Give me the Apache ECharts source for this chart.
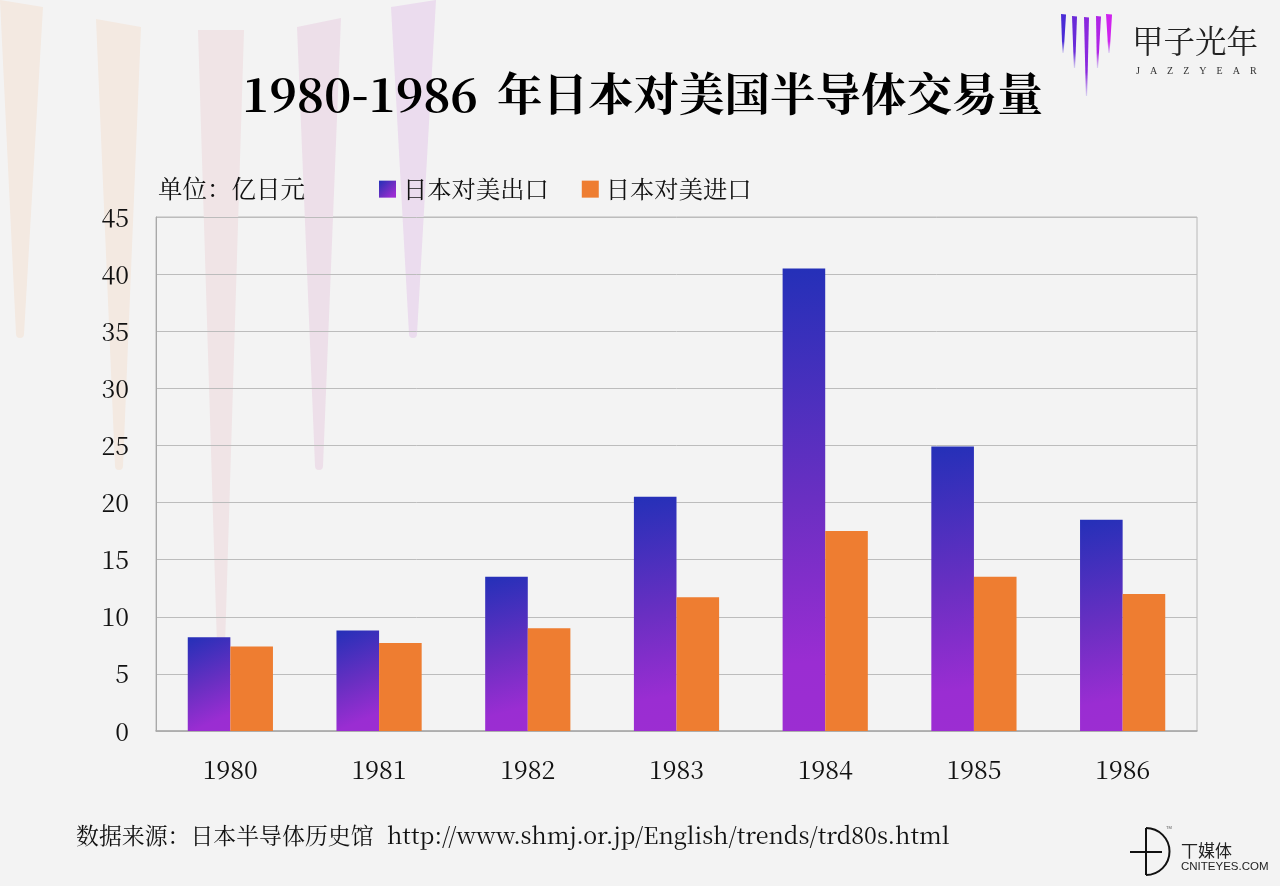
<!DOCTYPE html>
<html><head><meta charset="utf-8"><style>html,body{margin:0;background:#f3f3f3}#c{width:1280px;height:886px}</style>
<script src="https://cdn.jsdelivr.net/npm/echarts@6/dist/echarts.min.js"></script></head>
<body><div id="c"></div><script>
const categories=['1980','1981','1982','1983','1984','1985','1986'];
const exportsJP=[8.2,8.8,13.5,20.5,40.5,24.9,18.5];
const importsJP=[7.4,7.7,9.0,11.7,17.5,13.5,12.0];
const yTicks=[0,5,10,15,20,25,30,35,40,45];
const serif='"Noto Serif CJK SC","Liberation Serif","DejaVu Serif",serif';
const chart=echarts.init(document.getElementById('c'),null,{renderer:'canvas'});
const grad=new echarts.graphic.LinearGradient(0,0,1,1,[{offset:0,color:'#2430b8'},{offset:0.5,color:'#6a2fc2'},{offset:0.85,color:'#9a2dd2'},{offset:1,color:'#9c2dd2'}]);
function beam(x1,y1,x2,y2,bx,by,c){return [
 {type:'polygon',shape:{points:[[x1,y1],[x2,y2],[bx+4,by-4],[bx-4,by-4]]},style:{fill:c},z:0},
 {type:'circle',shape:{cx:bx,cy:by-4,r:4},style:{fill:c},z:0}];}
const beams=[
 ...beam(0,0,43,7,20,338,'#f3e9e1'),
 ...beam(96,19,141,27,119,470,'#f3e9e1'),
 ...beam(198,30,244,30,221,650,'#f0e4e6'),
 ...beam(297,27,341,18,319,470,'#eddfe9'),
 ...beam(391,7,436,0,413,338,'#ebdcee')];
function logoBar(x1,x2,y,tx,ty,c){return {type:'polygon',shape:{points:[[x1,y],[x2,y+0.5],[tx+0.6,ty],[tx-0.6,ty]]},style:{fill:new echarts.graphic.LinearGradient(0,0,0,1,[{offset:0,color:c},{offset:0.7,color:c},{offset:1,color:'#d9d4f0'}])},z:3};}
const logoBars=[
 logoBar(1061,1066,14,1063,53,'#4a2bd6'),
 logoBar(1072,1077,16,1074.5,68,'#6a2ad8'),
 logoBar(1084,1089,17,1086.5,96,'#8a28de'),
 logoBar(1096,1101,16,1097.5,68,'#b024e6'),
 logoBar(1106,1112,14,1109,53,'#cf22ee')];
chart.setOption({
 animation:false,backgroundColor:'#f3f3f3',
 title:{text:'{a|1980-1986}{b|年日本对美国半导体交易量}',left:637.5,top:66,textAlign:'center',textStyle:{rich:{a:{fontFamily:serif,fontSize:46.4,fontWeight:'bold',color:'#000'},b:{fontFamily:serif,fontSize:45.5,fontWeight:'bold',color:'#000',padding:[0,0,0,19]}}}},
 legend:{left:374,top:172,itemWidth:17,itemHeight:17,itemGap:33,textStyle:{fontFamily:serif,fontSize:24.3,color:'#111',padding:[0,0,0,2]},data:[{name:'日本对美出口',icon:'rect'},{name:'日本对美进口',icon:'rect'}]},
 grid:{left:156,right:83,top:217,bottom:155,show:true,borderColor:'#b8b8b8',borderWidth:1},
 xAxis:{type:'category',data:categories,axisTick:{show:false},axisLine:{lineStyle:{color:'#a8a8a8',width:1.5}},axisLabel:{margin:26,fontFamily:serif,fontSize:25,color:'#111'}},
 yAxis:{type:'value',min:0,max:45,interval:5,axisLine:{show:true,lineStyle:{color:'#a8a8a8'}},axisTick:{show:false},axisLabel:{margin:27,fontFamily:serif,fontSize:25,color:'#111',padding:[2,0,0,0]},splitLine:{lineStyle:{color:'#bcbcbc',width:1}}},
 series:[
  {name:'日本对美出口',type:'bar',data:exportsJP,barWidth:42.6,barGap:0,itemStyle:{color:grad},z:2},
  {name:'日本对美进口',type:'bar',data:importsJP,barWidth:42.6,barGap:0,itemStyle:{color:'#ee7d31'},z:2}
 ],
 graphic:[...beams,...logoBars,
  {type:'text',left:158,top:176,style:{text:'单位：亿日元',font:'24.5px '+serif,fill:'#111'}},
  {type:'text',left:76,top:824,style:{text:'数据来源：日本半导体历史馆',font:'22.9px '+serif,fill:'#111'}},
  {type:'text',left:387,top:823,style:{text:'http://www.shmj.or.jp/English/trends/trd80s.html',font:'23.3px '+serif,fill:'#111'}},
  {type:'text',left:1132,top:25,style:{text:'甲子光年',font:'31.5px '+serif,fill:'#222'}},
  {type:'text',left:1136,top:66,style:{text:'J    A    Z    Z    Y    E    A    R',font:'10px "Liberation Serif"',fill:'#333'}},
  {type:'arc',shape:{cx:1146,cy:851.5,r:23.5,startAngle:-Math.PI/2,endAngle:Math.PI/2},style:{fill:'none',stroke:'#111',lineWidth:2},z:3},
  {type:'line',shape:{x1:1146,y1:828,x2:1146,y2:875},style:{stroke:'#111',lineWidth:2},z:3},
  {type:'line',shape:{x1:1130,y1:852,x2:1162,y2:852},style:{stroke:'#111',lineWidth:2},z:3},
  {type:'text',left:1166,top:826,style:{text:'TM',font:'4px "Liberation Sans"',fill:'#555'}},
  {type:'text',left:1181,top:842,style:{text:'丅媒体',font:'17px "Noto Sans CJK SC"',fill:'#222'}},
  {type:'text',left:1181,top:861,style:{text:'CNITEYES.COM',font:'11.5px "Liberation Sans"',fill:'#222'}}
 ]
});
</script></body></html>
